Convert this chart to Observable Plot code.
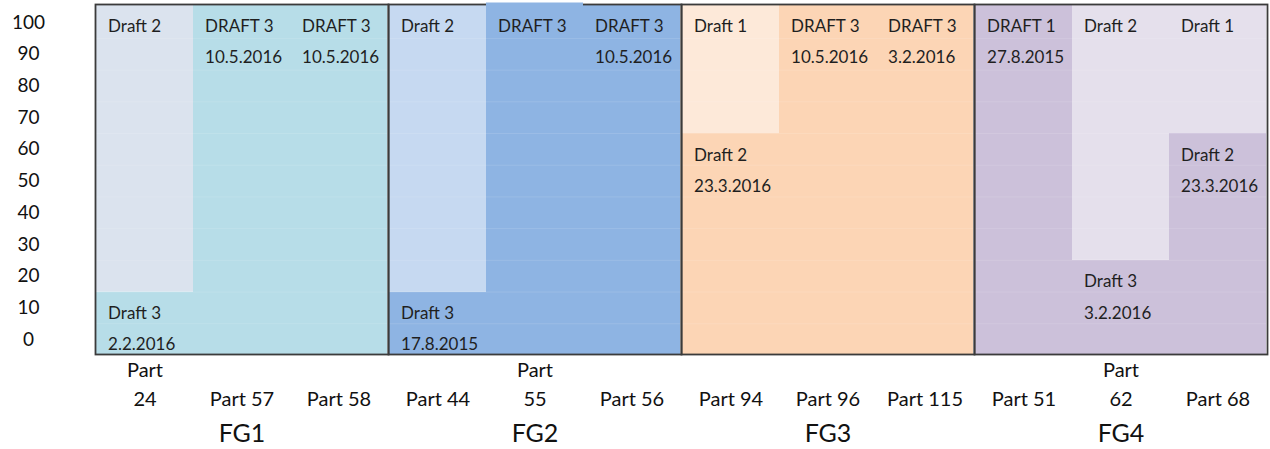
<!DOCTYPE html>
<html><head><meta charset="utf-8">
<script src="https://cdn.jsdelivr.net/npm/d3@7"></script>
<script src="https://cdn.jsdelivr.net/npm/@observablehq/plot@0.6"></script>
<style>html,body{margin:0;padding:0;background:#fff;} #chart{width:1270px;height:449px;overflow:hidden;}</style>
</head><body><div id="chart"></div>
<script>
// ---- data ----
const groupNames = ["FG1", "FG2", "FG3", "FG4"];
const groups = ["FG1","FG1","FG1","FG2","FG2","FG2","FG3","FG3","FG3","FG4","FG4","FG4"];
const parts = ["Part 24","Part 57","Part 58","Part 44","Part 55","Part 56","Part 94","Part 96","Part 115","Part 51","Part 62","Part 68"];
const partLabels = ["Part\n24","Part 57","Part 58","Part 44","Part\n55","Part 56","Part 94","Part 96","Part 115","Part 51","Part\n62","Part 68"];
const yTicks = [0, 10, 20, 30, 40, 50, 60, 70, 80, 90, 100];

const segPart  = ["Part 24","Part 24","Part 57","Part 58","Part 44","Part 44","Part 55","Part 56","Part 94","Part 94","Part 96","Part 115","Part 51","Part 62","Part 62","Part 68","Part 68"];
const segFrom  = [0, 15, 0, 0, 0, 15, 0, 0, 0, 65, 0, 0, 0, 0, 25, 0, 65];
const segTo    = [15, 100, 100, 100, 15, 100, 100, 100, 65, 100, 100, 100, 100, 25, 100, 65, 100];
const segText  = ["Draft 3\n2.2.2016","Draft 2","DRAFT 3\n10.5.2016","DRAFT 3\n10.5.2016","Draft 3\n17.8.2015","Draft 2","DRAFT 3","DRAFT 3\n10.5.2016","Draft 2\n23.3.2016","Draft 1","DRAFT 3\n10.5.2016","DRAFT 3\n3.2.2016","DRAFT 1\n27.8.2015","Draft 3\n3.2.2016","Draft 2","Draft 2\n23.3.2016","Draft 1"];
const segShade = ["dark","light","dark","dark","dark","light","dark","dark","dark","light","dark","dark","dark","dark","light","dark","light"];

const darkColors  = ["#b7dde8", "#8eb4e3", "#fcd5b5", "#ccc1da"];
const lightColors = ["#dbe3ee", "#c6d9f1", "#fde9d9", "#e5e0ec"];

// ---- build tables ----
const yDomain = [-4.7, 105.7]; // the filled columns run a little past 0 and 100
const slotOf = {};
const partRows = parts.map((p, i) => {
  const g = groups[i];
  const slot = groups.slice(0, i).filter(x => x === g).length;
  slotOf[p] = slot;
  return {part: p, group: g, slot, label: partLabels[i]};
});
const segs = segPart.map((p, i) => {
  const g = groups[parts.indexOf(p)];
  const gi = groupNames.indexOf(g);
  return {
    part: p, group: g, slot: slotOf[p],
    from: segFrom[i] === 0 ? yDomain[0] : segFrom[i],
    to: segTo[i] === 100 ? yDomain[1] : segTo[i],
    text: segText[i],
    color: segShade[i] === "dark" ? darkColors[gi] : lightColors[gi]
  };
});

const W = 1270, H = 449, mL = 94, mR = 2, mT = 4, mB = 95;
const band = (W - mL - mR) / groupNames.length / 3;
const frameStroke = "#3b3b3b";

const chart = Plot.plot({
  width: W, height: H,
  marginLeft: mL, marginRight: mR, marginTop: mT, marginBottom: mB,
  style: {fontFamily: "Lato, 'Open Sans', sans-serif", background: "#fff", overflow: "visible"},
  fx: {domain: groupNames, padding: 0, axis: null, label: null},
  x: {domain: [0, 1, 2], padding: 0, axis: null, label: null},
  y: {domain: yDomain, axis: null, label: null},
  color: {type: "identity"},
  marks: [
    Plot.barY(segs, {fx: "group", x: "slot", y1: "from", y2: "to", fill: "color"}),
    Plot.ruleY([5, 15, 25, 35, 45, 55, 65, 75, 85, 95], {stroke: "#ffffff", strokeOpacity: 0.12, strokeWidth: 1}),
    Plot.frame({stroke: frameStroke, strokeWidth: 1.8}),
    // Part 55's column rises over the top border
    Plot.barY(segs.filter(d => d.part === "Part 55"), {fx: "group", x: "slot", y1: 100, y2: "to", fill: "color", insetTop: -1.5}),
    Plot.text(segs, {
      fx: "group", x: "slot", y: "to", text: "text",
      textAnchor: "start", lineAnchor: "top", dx: -band / 2 + 12, dy: 5,
      fontSize: 17, lineHeight: 1.83, fill: "#1f1f1f"
    }),
    Plot.text(partRows, {
      fx: "group", x: "slot", text: "label", frameAnchor: "bottom",
      lineAnchor: "bottom", dy: 51, fontSize: 20, lineHeight: 1.45, fill: "#111"
    }),
    Plot.axisY({ticks: yTicks, tickSize: 0, tickPadding: 67, textAnchor: "middle", fontSize: 19, fill: "#111", label: null}),
    Plot.axisFx({anchor: "bottom", tickSize: 0, tickPadding: 70, fontSize: 25, fill: "#111", label: null})
  ]
});
document.getElementById("chart").appendChild(chart);
</script>
</body></html>
